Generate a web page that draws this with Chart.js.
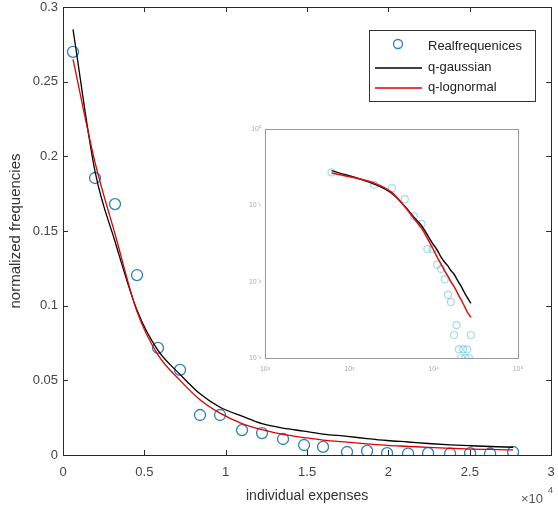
<!DOCTYPE html>
<html>
<head>
<meta charset="utf-8">
<script src="https://cdn.jsdelivr.net/npm/chart.js@4.4.1/dist/chart.umd.min.js"></script>
<style>
  html, body { margin: 0; padding: 0; background: #fff; }
  #wrap { position: relative; width: 558px; height: 513px; }
  #main { position: absolute; left: 0; top: 0; }
  #inset { position: absolute; left: 240px; top: 120px; }
</style>
</head>
<body>
<div id="wrap">
  <canvas id="main" width="558" height="513"></canvas>
  <canvas id="inset" width="290" height="265"></canvas>
</div>
<script>
// data
var expenses = [615, 1967, 3196, 4548, 5839, 7191, 8420, 9650, 11002, 12231, 13522,
                14813, 15980, 17455, 18685, 19914, 21205, 22434, 23786, 25015, 26245, 27658];
var realFreq = [0.270, 0.1855, 0.168, 0.1205, 0.0717, 0.057, 0.0268, 0.0268, 0.0167, 0.0147, 0.0107,
                0.0067, 0.0054, 0.002, 0.0027, 0.0013, 0.001, 0.0013, 0.001, 0.0013, 0.001, 0.002];
var qGaussian = [0.285, 0.190, 0.143, 0.097, 0.070, 0.054, 0.041, 0.032, 0.026, 0.021, 0.018,
                 0.016, 0.014, 0.0125, 0.011, 0.0097, 0.0087, 0.0077, 0.0068, 0.0062, 0.0057, 0.0052];
var qLognormal = [0.265, 0.196, 0.148, 0.096, 0.067, 0.050, 0.037, 0.028, 0.021, 0.017, 0.0138,
                  0.0117, 0.010, 0.0086, 0.0075, 0.0065, 0.0058, 0.0051, 0.0045, 0.004, 0.0037, 0.0034];
var seriesLabels = ["Realfrequenices", "q-gaussian", "q-lognormal"];
var xTickValues = [0, 5000, 10000, 15000, 20000, 25000, 30000];
var xTickLabels = ["0", "0.5", "1", "1.5", "2", "2.5", "3"];
var yTickValues = [0, 0.05, 0.1, 0.15, 0.2, 0.25, 0.3];
var yTickLabels = ["0", "0.05", "0.1", "0.15", "0.2", "0.25", "0.3"];
var insetXTicks = [100, 1000, 10000, 100000];
var insetXLabels = ["10\u00b2", "10\u00b3", "10\u2074", "10\u2075"];
var insetYTicks = [0.001, 0.01, 0.1, 1];
var insetYLabels = ["10\u207b\u00b3", "10\u207b\u00b2", "10\u207b\u00b9", "10\u2070"];

var FONT = "'Liberation Sans', Arial, sans-serif";
var BLUE = "#2a7fc0";

function toPoints(xs, ys) {
    return xs.map(function (x, i) { return { x: x, y: ys[i] }; });
}

// ukuran sumbu tetap, tanpa padding tambahan dari label
function fixSize(h, w) {
    return function (s) {
        if (h !== null) s.height = h;
        if (w !== null) s.width = w;
        s.paddingLeft = 0; s.paddingRight = 0;
        s.paddingTop = 0; s.paddingBottom = 0;
    };
}

// kotak (box) dan tick ke dalam
function boxPlugin(color, tickLen) {
    return {
        id: "box",
        afterDraw: function (chart) {
            var ctx = chart.ctx, a = chart.chartArea;
            ctx.save();
            ctx.strokeStyle = color;
            ctx.lineWidth = 1;
            ctx.strokeRect(Math.round(a.left) + 0.5, Math.round(a.top) + 0.5,
                Math.round(a.right - a.left), Math.round(a.bottom - a.top));
            if (tickLen > 0) {
                ctx.beginPath();
                chart.scales.x.ticks.forEach(function (t) {
                    var px = Math.round(chart.scales.x.getPixelForValue(t.value)) + 0.5;
                    ctx.moveTo(px, a.bottom); ctx.lineTo(px, a.bottom - tickLen);
                    ctx.moveTo(px, a.top); ctx.lineTo(px, a.top + tickLen);
                });
                chart.scales.y.ticks.forEach(function (t) {
                    var py = Math.round(chart.scales.y.getPixelForValue(t.value)) + 0.5;
                    ctx.moveTo(a.left, py); ctx.lineTo(a.left + tickLen, py);
                    ctx.moveTo(a.right, py); ctx.lineTo(a.right - tickLen, py);
                });
                ctx.stroke();
            }
            ctx.restore();
        }
    };
}

// legenda di dalam area grafik
var legendPlugin = {
    id: "legendBox",
    afterDraw: function (chart) {
        var ctx = chart.ctx;
        var ds = chart.data.datasets;
        ctx.save();
        ctx.fillStyle = "#fff";
        ctx.fillRect(369, 30, 166, 71);
        ctx.strokeStyle = "#333";
        ctx.lineWidth = 1;
        ctx.strokeRect(369.5, 30.5, 166, 71);
        ctx.font = "13px " + FONT;
        ctx.textBaseline = "middle";
        var rows = [46, 67, 87];
        ds.forEach(function (d, i) {
            var y = rows[i];
            if (d.type === "scatter") {
                ctx.beginPath();
                ctx.strokeStyle = BLUE;
                ctx.lineWidth = 1.3;
                ctx.arc(398, y - 2, 4.5, 0, Math.PI * 2);
                ctx.stroke();
            } else {
                ctx.beginPath();
                ctx.strokeStyle = d.borderColor;
                ctx.lineWidth = 1.3;
                ctx.moveTo(375, y + 1); ctx.lineTo(422, y + 1);
                ctx.stroke();
            }
            ctx.fillStyle = "#222";
            ctx.fillText(d.label, 428, y);
        });
        // pengali sumbu x
        ctx.fillStyle = "#555";
        ctx.font = "13px " + FONT;
        ctx.textBaseline = "alphabetic";
        ctx.fillText("\u00d710", 521, 503);
        ctx.font = "9px " + FONT;
        ctx.fillText("4", 548, 493);
        ctx.restore();
    }
};

var mainChart = new Chart(document.getElementById("main").getContext("2d"), {
    data: {
        datasets: [
            {
                type: "scatter",
                label: seriesLabels[0],
                data: toPoints(expenses, realFreq),
                pointStyle: "circle",
                pointRadius: 5.5,
                pointBorderWidth: 1.3,
                borderColor: BLUE,
                backgroundColor: "rgba(0,0,0,0)",
                order: 3
            },
            {
                type: "line",
                label: seriesLabels[1],
                data: toPoints(expenses, qGaussian),
                borderColor: "#000",
                borderWidth: 1.3,
                pointRadius: 0,
                cubicInterpolationMode: "monotone",
                fill: false,
                order: 2
            },
            {
                type: "line",
                label: seriesLabels[2],
                data: toPoints(expenses, qLognormal),
                borderColor: "#e00000",
                borderWidth: 1.3,
                pointRadius: 0,
                cubicInterpolationMode: "monotone",
                fill: false,
                order: 1
            }
        ]
    },
    options: {
        responsive: false,
        animation: false,
        layout: { padding: { left: 0, right: 5, top: 7, bottom: 0 } },
        plugins: { legend: { display: false }, tooltip: { enabled: false } },
        scales: {
            x: {
                type: "linear",
                min: 0,
                max: 30000,
                afterBuildTicks: function (s) {
                    s.ticks = xTickValues.map(function (v) { return { value: v }; });
                },
                afterFit: fixSize(58, null),
                grid: { display: false, drawTicks: false },
                border: { display: false },
                ticks: {
                    padding: 10,
                    color: "#444",
                    font: { family: FONT, size: 13 },
                    maxRotation: 0,
                    callback: function (v) { return xTickLabels[xTickValues.indexOf(v)]; }
                },
                title: {
                    display: true,
                    text: "individual expenses",
                    color: "#333",
                    font: { family: FONT, size: 14 },
                    padding: { top: 4, bottom: 8 }
                }
            },
            y: {
                type: "linear",
                min: 0,
                max: 0.3,
                afterBuildTicks: function (s) {
                    s.ticks = yTickValues.map(function (v) { return { value: v }; });
                },
                afterFit: fixSize(null, 63),
                grid: { display: false, drawTicks: false },
                border: { display: false },
                ticks: {
                    padding: 5,
                    color: "#444",
                    font: { family: FONT, size: 13 },
                    callback: function (v) { return yTickLabels[yTickValues.indexOf(v)]; }
                },
                title: {
                    display: true,
                    text: "normalized frequencies",
                    color: "#333",
                    font: { family: FONT, size: 15 },
                    padding: { top: 7, bottom: 0 }
                }
            }
        }
    },
    plugins: [boxPlugin("#2a2a2a", 5), legendPlugin]
});

// grafik kecil (log-log)
var insetChart = new Chart(document.getElementById("inset").getContext("2d"), {
    data: {
        datasets: [
            {
                type: "scatter",
                data: toPoints(expenses, realFreq),
                pointRadius: 3.5,
                pointBorderWidth: 1.2,
                borderColor: "rgba(90,190,215,0.55)",
                backgroundColor: "rgba(0,0,0,0)",
                order: 3
            },
            {
                type: "line",
                data: toPoints(expenses, qGaussian),
                borderColor: "#111",
                borderWidth: 1.5,
                pointRadius: 0,
                cubicInterpolationMode: "monotone",
                order: 2
            },
            {
                type: "line",
                data: toPoints(expenses, qLognormal),
                borderColor: "#e01010",
                borderWidth: 1.5,
                pointRadius: 0,
                cubicInterpolationMode: "monotone",
                order: 1
            }
        ]
    },
    options: {
        responsive: false,
        animation: false,
        layout: { padding: { left: 0, right: 12, top: 9, bottom: 0 } },
        plugins: { legend: { display: false }, tooltip: { enabled: false } },
        scales: {
            x: {
                type: "logarithmic",
                min: 100,
                max: 100000,
                afterBuildTicks: function (s) {
                    s.ticks = insetXTicks.map(function (v) { return { value: v }; });
                },
                afterFit: fixSize(27, null),
                grid: { display: false, drawTicks: false },
                border: { display: false },
                ticks: {
                    padding: 7,
                    color: "#aaa",
                    font: { family: FONT, size: 7 },
                    maxRotation: 0,
                    callback: function (v) { return insetXLabels[insetXTicks.indexOf(v)]; }
                }
            },
            y: {
                type: "logarithmic",
                min: 0.001,
                max: 1,
                afterBuildTicks: function (s) {
                    s.ticks = insetYTicks.map(function (v) { return { value: v }; });
                },
                afterFit: fixSize(null, 25),
                grid: { display: false, drawTicks: false },
                border: { display: false },
                ticks: {
                    padding: 4,
                    color: "#aaa",
                    font: { family: FONT, size: 7 },
                    callback: function (v) { return insetYLabels[insetYTicks.indexOf(v)]; }
                }
            }
        }
    },
    plugins: [boxPlugin("#9a9a9a", 0)]
});
</script>
</body>
</html>
